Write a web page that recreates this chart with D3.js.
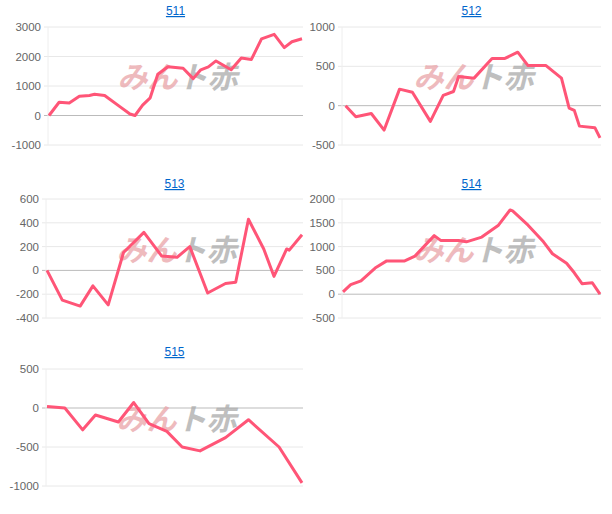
<!DOCTYPE html><html><head><meta charset="utf-8"><script src="https://cdn.jsdelivr.net/npm/d3@7"></script>
<style>body{margin:0;background:#fff;font-family:"Liberation Sans",Arial,sans-serif}</style></head><body><svg id="c" width="612" height="514"></svg>
<script>
const titles=["511","512","513","514","515"];
const t511=[0,4,8,12,16,18,22,28,32,34,37,40,43,47,53,57,60,63,66,72,76,80,84,89,93,96,100];
const v511=[0,450,420,650,680,720,680,300,50,0,350,600,1400,1650,1600,1250,1550,1650,1850,1550,1950,1900,2600,2750,2300,2500,2600];
const t512=[1,5,11,16,22,27,34,39,43,45,51,58,63,68,72,79,85,88,90,92,98,100];
const v512=[0,-140,-100,-310,210,170,-200,130,180,370,350,600,600,680,510,510,350,-30,-60,-260,-280,-410];
const t513=[0,6,13,18,24,30,38,45,51,56,63,70,74,79,85,89,94,95,100];
const v513=[0,-250,-300,-130,-290,150,320,120,110,200,-190,-110,-100,430,180,-50,180,170,300];
const t514=[0,3,7,12.5,17,24,28,35.5,38,45,48,54,60.5,65,66,72,78,81.5,87,90,93,97,100];
const v514=[50,200,280,550,700,700,800,1230,1130,1130,1100,1200,1450,1770,1750,1450,1100,850,650,450,220,240,0];
const t515=[0,7,14,19,28,34,40,47,53,60,70,79,91,100];
const v515=[20,0,-280,-90,-180,70,-200,-300,-500,-550,-380,-150,-500,-960];
const ticks=[[3000,2000,1000,0,-1000],[1000,500,0,-500],[600,400,200,0,-200,-400],[2000,1500,1000,500,0,-500],[500,0,-500,-1000]];
const ts=[t511,t512,t513,t514,t515], vs=[v511,v512,v513,v514,v515];
const boxes=[[48,303,27,145,11],[342,601,27,145,11],[46,303,199,318,184],[342,601,199,318,184],[46,303,369,486,352]];
const svg=d3.select("#c");
boxes.forEach((b,i)=>{
  const [x0,x1,y0,y1,ty]=b;
  const tk=ticks[i];
  const y=d3.scaleLinear().domain([d3.min(tk),d3.max(tk)]).range([y1,y0]);
  const x=d3.scaleLinear().domain([0,100]).range([x0+1,x1-1]);
  const g=svg.append("g");
  g.append("text").attr("x",(x0+x1)/2).attr("y",ty+4).attr("text-anchor","middle").attr("font-size",12).attr("fill","#0066cc").attr("text-decoration","underline").text(titles[i]);
  tk.forEach(v=>{
    g.append("line").attr("x1",x0-4).attr("x2",x1).attr("y1",y(v)).attr("y2",y(v)).attr("stroke",v===0?"#bbb":"#e8e8e8").attr("stroke-width",1);
    g.append("text").attr("x",x0-7).attr("y",y(v)+4).attr("text-anchor","end").attr("font-size",11.5).attr("fill","#666").text(v);
  });
  g.append("line").attr("x1",x0).attr("x2",x0).attr("y1",y0).attr("y2",y1).attr("stroke","#eee");
  const cx=(x0+x1)/2+10, cy=(y0+y1)/2+2;
  g.append("text").attr("x",cx-8).attr("y",cy).attr("text-anchor","end").attr("font-size",30).attr("font-weight","bold").attr("font-style","italic").attr("fill","#e9a3a8").attr("opacity",0.75).attr("font-family","Noto Sans CJK JP").text("みん");
  g.append("text").attr("x",cx-8).attr("y",cy).attr("text-anchor","start").attr("font-size",30).attr("font-weight","bold").attr("font-style","italic").attr("fill","#aaa").attr("opacity",0.75).attr("font-family","Noto Sans CJK JP").text("ト赤");
  const data=ts[i].map((t,j)=>[t,vs[i][j]]);
  g.append("path").datum(data).attr("fill","none").attr("stroke","#ff5577").attr("stroke-width",3).attr("stroke-linejoin","round")
   .attr("d",d3.line().x(d=>x(d[0])).y(d=>y(d[1])));
});
</script></body></html>
